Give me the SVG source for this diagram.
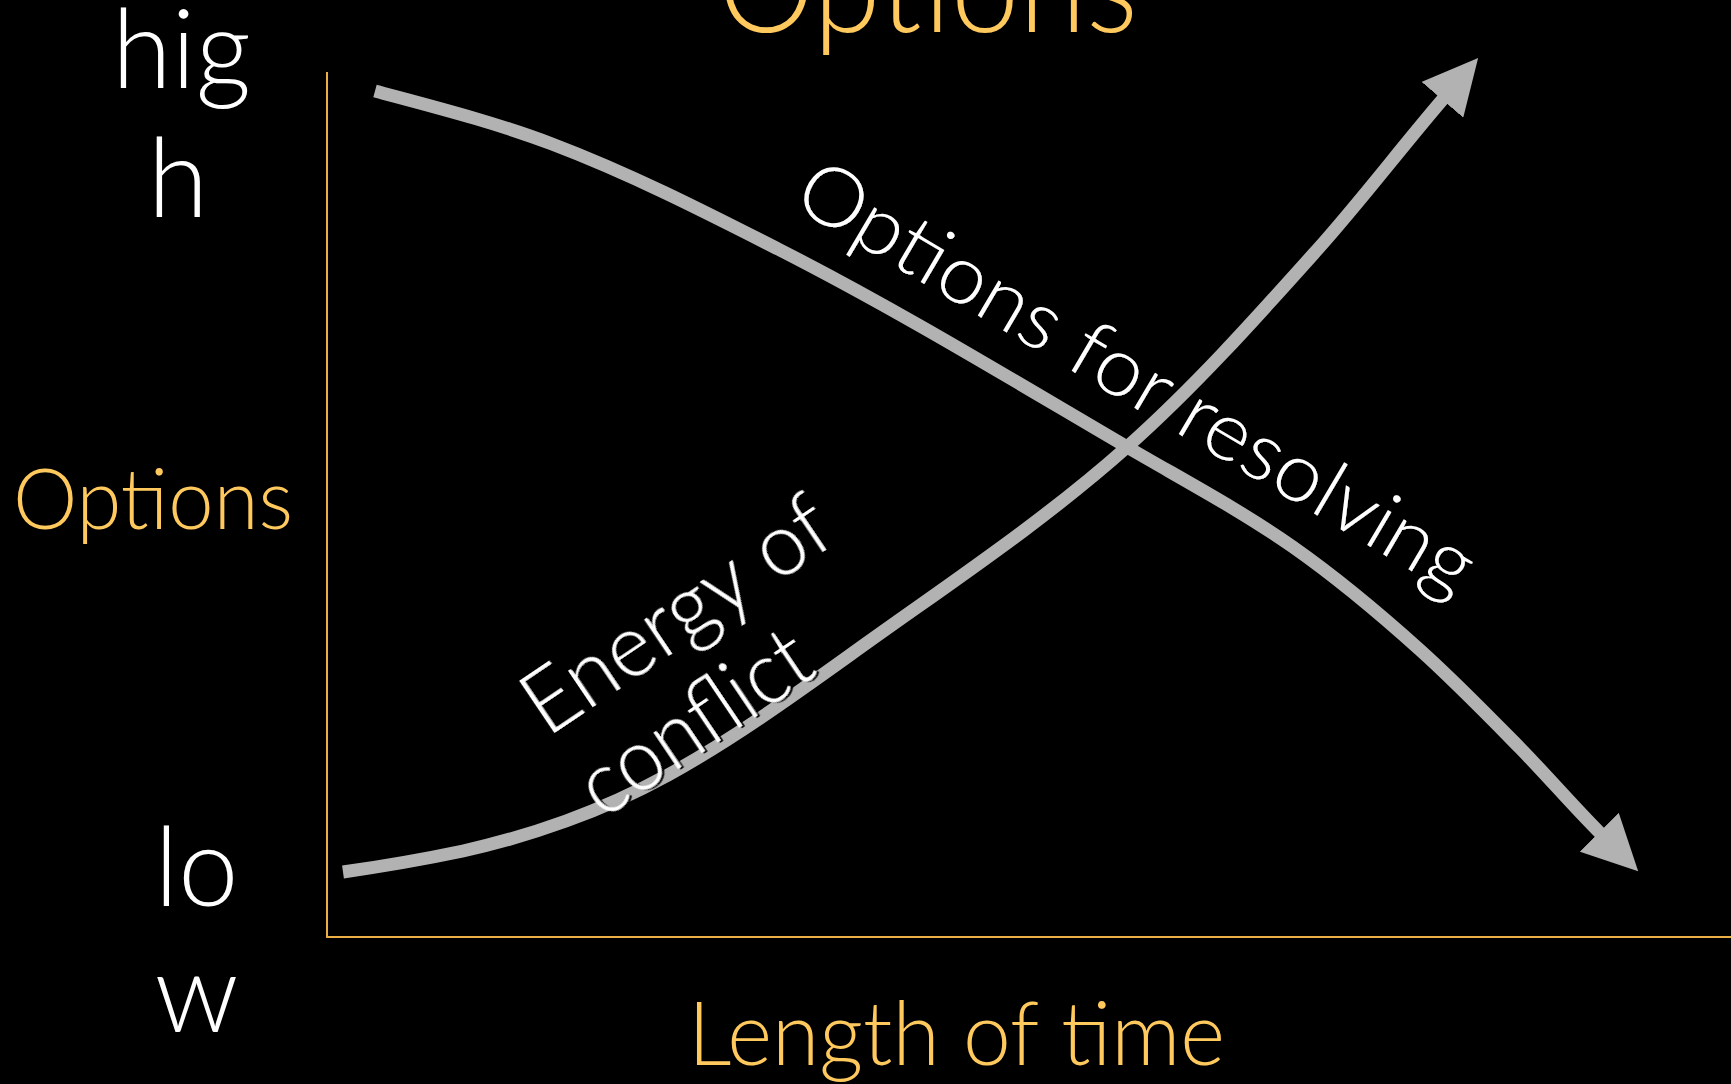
<svg xmlns="http://www.w3.org/2000/svg" width="1731" height="1084" viewBox="0 0 1731 1084">
  <style>
    .gold { fill: #FFC95E; font-family: Lato, "Liberation Sans", sans-serif; font-weight: 300; }
    .white { fill: #FFFFFF; font-family: Lato, "Liberation Sans", sans-serif; font-weight: 300; }
    .axis { stroke: #EBAE45; stroke-width: 2; fill: none; }
    .curve { stroke: #B2B2B2; stroke-width: 13; fill: none; stroke-linecap: butt; marker-end: url(#head); }
  </style>
  <defs>
    <marker id="head" markerUnits="userSpaceOnUse" markerWidth="55" markerHeight="55" viewBox="0 0 55 55" refX="1" refY="27.5" orient="auto">
      <path d="M0,0 L55,27.5 L0,55 Z" fill="#B2B2B2"/>
    </marker>
    <filter id="shadow" x="-10%" y="-10%" width="120%" height="130%">
      <feDropShadow dx="2" dy="2" stdDeviation="0.6" flood-color="#000" flood-opacity="0.9"/>
    </filter>
  </defs>
  <rect width="1731" height="1084" fill="#000"/>

  <g id="title">
    <text class="gold" x="718" y="32" font-size="130" textLength="420" lengthAdjust="spacingAndGlyphs">Options</text>
  </g>

  <g id="axes">
    <line class="axis" x1="327" y1="72" x2="327" y2="938"/>
    <line class="axis" x1="326" y1="937" x2="1731" y2="937"/>
  </g>

  <g id="y-labels">
    <text class="white" x="181.5" y="88" font-size="110" textLength="139" lengthAdjust="spacingAndGlyphs" text-anchor="middle">hig</text>
    <text class="white" x="178" y="217" font-size="110" text-anchor="middle">h</text>
    <text class="gold" x="13" y="529" font-size="85" textLength="280" lengthAdjust="spacingAndGlyphs">Options</text>
    <text class="white" x="196.5" y="906" font-size="110" textLength="84" lengthAdjust="spacingAndGlyphs" text-anchor="middle">lo</text>
    <text class="white" x="196.5" y="1032" font-size="110" text-anchor="middle">w</text>
  </g>

  <g id="x-label">
    <text class="gold" x="688" y="1065" font-size="88" textLength="537" lengthAdjust="spacingAndGlyphs">Length of time</text>
  </g>

  <g id="connectors">
    <path id="options-curve" class="curve" d="M375,91 C434.5,107 494.4,122.1 552,144 C630.4,173.7 705.3,212 780,250 C898.5,310.4 1012.2,379.8 1127,447 C1182.7,479.6 1240.1,509.9 1293,547 C1337.6,578.3 1379.5,613.5 1420,650 C1454.7,681.2 1487.3,714.7 1520,748 C1547.2,775.8 1572.5,805.5 1600,833"/>
    <path id="energy-curve" class="curve" d="M343,872 C385,866 425,859 463,851 C499,843 533,833 566,821 C602,808 635,793 668,775 C730,741 790,698 850,655 C943.7,587.4 1040.7,523.8 1127,447 C1195.1,386.4 1256.2,317.9 1317,250 C1360.8,201.1 1400.3,148.8 1443,99"/>
  </g>

  <g id="options-label" filter="url(#shadow)">
    <text class="white" transform="translate(790,205) rotate(30.5)" x="0" y="0" font-size="82" textLength="772" lengthAdjust="spacingAndGlyphs">Options for resolving</text>
  </g>

  <g id="energy-label" filter="url(#shadow)" transform="translate(547,738) rotate(-34)">
    <text class="white" x="0" y="0" font-size="88" textLength="352" lengthAdjust="spacingAndGlyphs">Energy of</text>
    <text class="white" x="0" y="99" font-size="88" textLength="262" lengthAdjust="spacingAndGlyphs">conflict</text>
  </g>
</svg>
